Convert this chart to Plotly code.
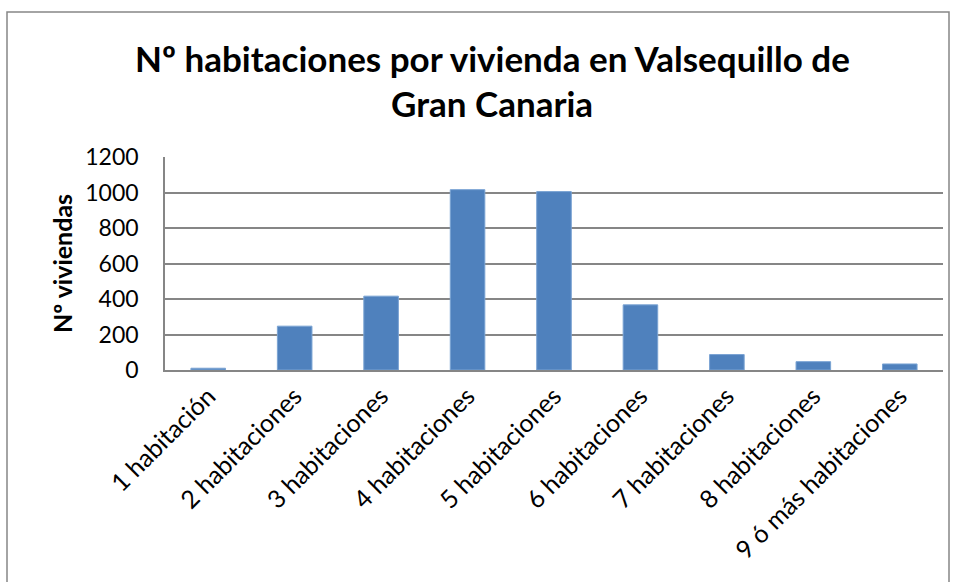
import plotly.graph_objects as go

categories = [
    "1 habitación", "2 habitaciones", "3 habitaciones", "4 habitaciones",
    "5 habitaciones", "6 habitaciones", "7 habitaciones", "8 habitaciones",
    "9 ó más habitaciones",
]
viviendas = [10, 247, 416, 1016, 1005, 367, 87, 47, 34]
y_ticks = [0, 200, 400, 600, 800, 1000, 1200]
title_lines = ["Nº habitaciones por vivienda en Valsequillo de", "Gran Canaria"]

FONT = "Lato, Carlito, Calibri, sans-serif"

# plot area geometry (pixels) used to place the title lines
L, R, T, B = 165, 10, 157, 212
W, H = 953, 582
PW, PH = W - L - R, H - T - B


def px_to_paper_y(py):
    return (H - B - py) / PH


def px_to_paper_x(px):
    return (px - L) / PW


fig = go.Figure(
    go.Bar(
        x=categories,
        y=viviendas,
        marker=dict(color="#4f81bd", line=dict(color="#7aa3d3", width=1)),
    )
)

fig.update_layout(
    width=W,
    height=H,
    margin=dict(l=L, r=R, t=T, b=B),
    paper_bgcolor="white",
    plot_bgcolor="white",
    bargap=0.6,
    showlegend=False,
    font=dict(family=FONT, color="black", size=23),
    xaxis=dict(
        tickangle=-45,
        showline=True,
        linecolor="#868686",
        linewidth=1.5,
        ticks="",
        tickfont=dict(size=25),
    ),
    yaxis=dict(
        range=[0, 1200],
        tickvals=y_ticks,
        showgrid=True,
        gridcolor="#868686",
        gridwidth=1.5,
        showline=True,
        linecolor="#868686",
        linewidth=1.5,
        ticks="",
        ticklabelstandoff=20,
        tickfont=dict(size=23),
        title=dict(text="<b>Nº viviendas</b>", font=dict(size=25), standoff=6),
    ),
)

for text, py in zip(title_lines, [58, 103]):
    fig.add_annotation(
        text=f"<b>{text}</b>",
        xref="paper", yref="paper",
        x=px_to_paper_x(492), y=px_to_paper_y(py),
        xanchor="center", yanchor="middle",
        showarrow=False,
        font=dict(family=FONT, size=35, color="black"),
    )

# Chart-area border
fig.add_shape(
    type="rect", xref="paper", yref="paper",
    x0=px_to_paper_x(7), x1=px_to_paper_x(949),
    y0=px_to_paper_y(590), y1=px_to_paper_y(12),
    line=dict(color="#868686", width=1.5), fillcolor="rgba(0,0,0,0)",
)

fig.write_html("out.html")
